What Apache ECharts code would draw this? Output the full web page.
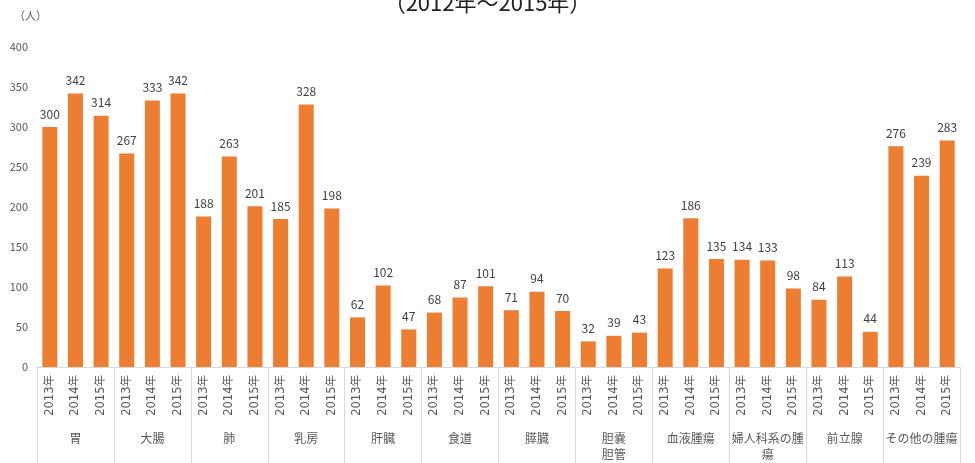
<!DOCTYPE html>
<html>
<head>
<meta charset="utf-8">
<script src="https://cdn.jsdelivr.net/npm/echarts@6/dist/echarts.min.js"></script>
<style>html,body{margin:0;padding:0;background:#fff;}#c{width:975px;height:463px;}</style>
</head>
<body>
<div id="c"></div>
<script>
const titleText = '（2012年～2015年）';
const unitText = '（人）';
const years = ['2013年', '2014年', '2015年'];
const groups = ['胃', '大腸', '肺', '乳房', '肝臓', '食道', '膵臓', '胆嚢\n胆管', '血液腫瘍', '婦人科系の腫\n瘍', '前立腺', 'その他の腫瘍'];
const values = [
  300, 342, 314,
  267, 333, 342,
  188, 263, 201,
  185, 328, 198,
  62, 102, 47,
  68, 87, 101,
  71, 94, 70,
  32, 39, 43,
  123, 186, 135,
  134, 133, 98,
  84, 113, 44,
  276, 239, 283
];
const yTicks = [0, 50, 100, 150, 200, 250, 300, 350, 400];

const categories = [];
groups.forEach(function (g) { years.forEach(function (y) { categories.push(y); }); });

const font = '"Noto Sans CJK JP", "Noto Sans", sans-serif';
const yearFont = '"DejaVu Sans", "Noto Sans CJK JP", sans-serif';
const chart = echarts.init(document.getElementById('c'));
chart.setOption({
  animation: false,
  backgroundColor: '#ffffff',
  title: {
    text: titleText,
    left: 'center',
    top: -13,
    textStyle: { fontFamily: font, fontSize: 22, fontWeight: 'normal', color: '#222' }
  },
  graphic: [{
    type: 'text', left: 14, top: 10,
    style: { text: unitText, font: '11px ' + font, fill: '#595959' }
  }],
  grid: { left: 37, right: 15, top: 47, bottom: 96 },
  xAxis: [{
    type: 'category',
    data: categories,
    axisLine: { show: true, lineStyle: { color: '#d9d9d9' } },
    axisTick: { show: false },
    axisLabel: {
      interval: 0, rotate: 90, margin: 8,
      fontFamily: yearFont, fontSize: 11.5, color: '#595959'
    },
    splitLine: { show: false }
  }, {
    type: 'category',
    position: 'bottom',
    data: groups,
    axisLine: { show: false },
    axisTick: { show: true, length: 96, lineStyle: { color: '#d9d9d9' } },
    axisLabel: {
      interval: 0, margin: 63, lineHeight: 16,
      fontFamily: font, fontSize: 12, color: '#595959'
    },
    splitLine: { show: false }
  }],
  yAxis: {
    type: 'value',
    min: yTicks[0], max: yTicks[yTicks.length - 1], interval: 50,
    axisLine: { show: false },
    axisTick: { show: false },
    splitLine: { show: false },
    axisLabel: { fontFamily: font, fontSize: 11, color: '#595959', margin: 9 }
  },
  series: [{
    type: 'bar',
    xAxisIndex: 0,
    data: values,
    barWidth: 15,
    itemStyle: { color: '#ED7D31' },
    label: {
      show: true, position: 'top', distance: 7,
      fontFamily: font, fontSize: 12, color: '#404040'
    }
  }]
});
</script>
</body>
</html>
